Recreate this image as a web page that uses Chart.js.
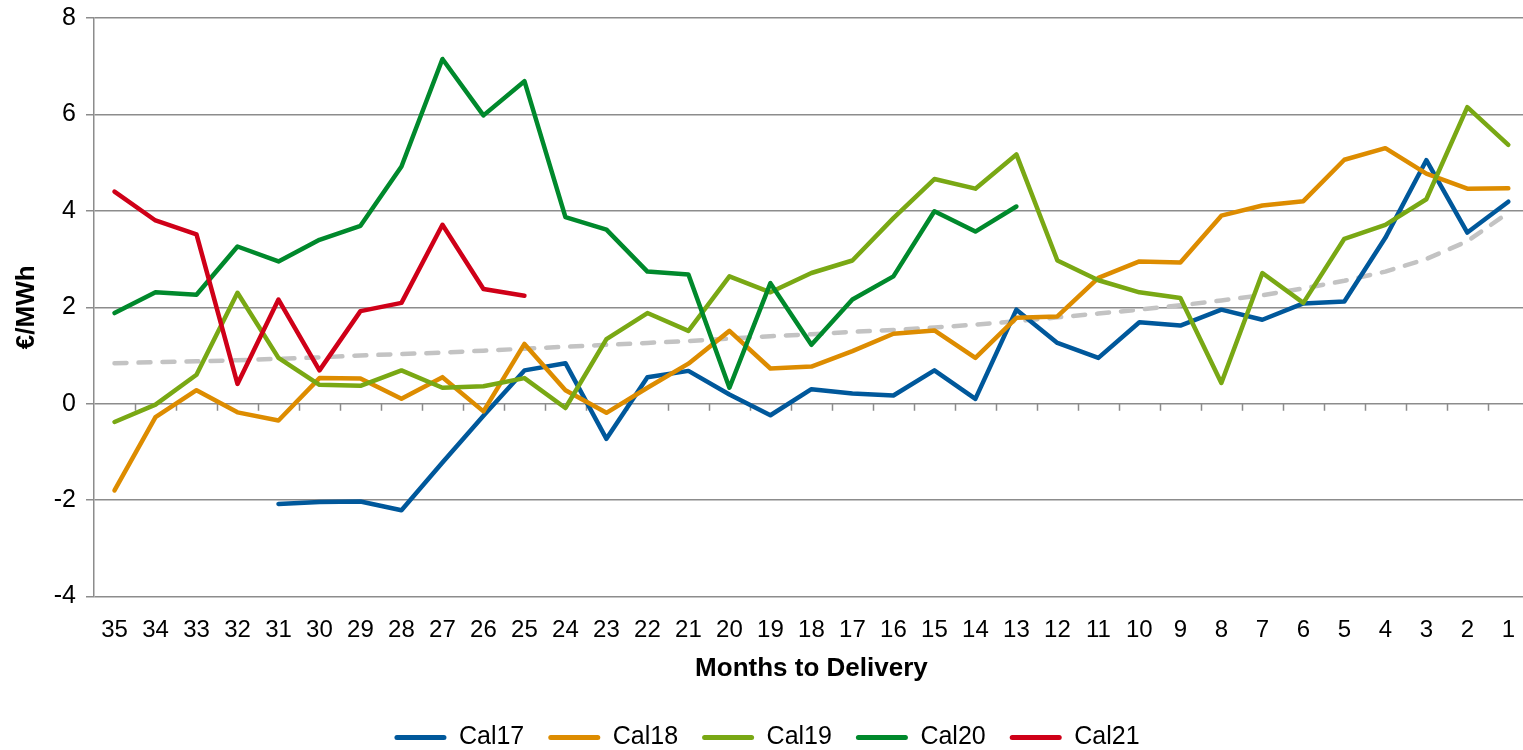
<!DOCTYPE html>
<html>
<head>
<meta charset="utf-8">
<script src="https://cdn.jsdelivr.net/npm/chart.js@4.4.1/dist/chart.umd.min.js"></script>
<style>
  html, body { margin: 0; padding: 0; background: #fff; overflow: hidden; }
  #wrap { width: 1534px; height: 750px; position: relative; }
</style>
</head>
<body>
<div id="wrap"><canvas id="c"></canvas></div>
<script>
const categories = ["35","34","33","32","31","30","29","28","27","26","25","24","23","22","21","20","19","18","17","16","15","14","13","12","11","10","9","8","7","6","5","4","3","2","1"];

const cal17 = [null,null,null,null,-2.08,-2.04,-2.03,-2.21,-1.22,-0.25,0.69,0.84,-0.73,0.55,0.68,0.19,-0.24,0.30,0.21,0.17,0.69,0.10,1.95,1.26,0.95,1.69,1.62,1.95,1.74,2.08,2.12,3.44,5.05,3.55,4.19];
const cal18 = [-1.80,-0.28,0.28,-0.18,-0.35,0.53,0.52,0.10,0.55,-0.16,1.24,0.28,-0.19,0.33,0.83,1.51,0.73,0.77,1.09,1.45,1.52,0.95,1.78,1.81,2.61,2.95,2.93,3.90,4.11,4.20,5.06,5.30,4.77,4.46,4.47];
const cal19 = [-0.38,-0.02,0.60,2.30,0.95,0.39,0.37,0.69,0.33,0.36,0.53,-0.09,1.34,1.88,1.51,2.64,2.31,2.71,2.97,3.85,4.66,4.46,5.17,2.97,2.56,2.31,2.19,0.43,2.71,2.09,3.42,3.71,4.24,6.15,5.37];
const cal20 = [1.88,2.31,2.26,3.26,2.95,3.40,3.69,4.92,7.15,5.98,6.69,3.87,3.61,2.74,2.68,0.33,2.50,1.22,2.16,2.64,3.99,3.57,4.09,null,null,null,null,null,null,null,null,null,null,null,null];
const cal21 = [4.40,3.80,3.51,0.41,2.16,0.69,1.92,2.09,3.71,2.38,2.24,null,null,null,null,null,null,null,null,null,null,null,null,null,null,null,null,null,null,null,null,null,null,null,null];
const trend = [0.84,0.86,0.88,0.90,0.93,0.96,1.00,1.03,1.06,1.10,1.14,1.18,1.22,1.26,1.30,1.35,1.40,1.44,1.49,1.53,1.58,1.64,1.71,1.79,1.87,1.95,2.04,2.14,2.25,2.39,2.55,2.74,3.00,3.37,3.96];

const yTicks = [-4,-2,0,2,4,6,8];

const FONT = "'Liberation Sans', Arial, sans-serif";

function series(label, data, color, order) {
  return {
    label, data,
    borderColor: color, backgroundColor: color,
    borderWidth: 4.5, pointRadius: 0, pointHoverRadius: 0,
    tension: 0, spanGaps: false, order,
    borderJoinStyle: 'round', borderCapStyle: 'round'
  };
}

const zeroTicks = {
  id: 'zeroTicks',
  beforeDatasetsDraw(chart) {
    const x = chart.scales.x, y = chart.scales.y;
    const y0 = y.getPixelForValue(0);
    const ctx = chart.ctx;
    ctx.save();
    ctx.strokeStyle = '#8c8c8c';
    ctx.lineWidth = 1.5;
    ctx.beginPath();
    for (let i = 1; i < categories.length; i++) {
      const px = (x.getPixelForValue(i - 1) + x.getPixelForValue(i)) / 2;
      ctx.moveTo(Math.round(px) + 0.5, y0);
      ctx.lineTo(Math.round(px) + 0.5, y0 + 7);
    }
    ctx.stroke();
    ctx.restore();
  }
};

new Chart(document.getElementById('c'), {
  type: 'line',
  data: {
    labels: categories,
    datasets: [
      series('Cal17', cal17, '#00589b', 5),
      series('Cal18', cal18, '#dd8c00', 4),
      series('Cal19', cal19, '#79a814', 3),
      series('Cal20', cal20, '#00892c', 2),
      series('Cal21', cal21, '#cf0018', 1),
      Object.assign(series('Trend', trend, '#c3c3c3', 6), { borderDash: [12, 12], borderWidth: 4.5 })
    ]
  },
  options: {
    responsive: true,
    maintainAspectRatio: false,
    animation: false,
    devicePixelRatio: 1,
    layout: { padding: { top: 18, right: 0, left: 0, bottom: -10 } },
    plugins: {
      tooltip: { enabled: false },
      legend: {
        position: 'bottom',
        labels: {
          font: { family: FONT, size: 25 },
          color: '#000',
          boxWidth: 52,
          boxHeight: 5,
          padding: 24,
          useBorderRadius: true,
          borderRadius: 2.5,
          sort: (a, b) => a.datasetIndex - b.datasetIndex,
          generateLabels(chart) {
            return Chart.defaults.plugins.legend.labels.generateLabels(chart)
              .filter(l => l.text !== 'Trend')
              .map(l => Object.assign(l, { lineWidth: 0, fillStyle: l.strokeStyle, lineDash: [] }));
          }
        }
      }
    },
    scales: {
      x: {
        type: 'category',
        offset: true,
        grid: { display: false, drawTicks: false },
        border: { display: false },
        ticks: {
          font: { family: FONT, size: 24 },
          color: '#000',
          padding: 19,
          maxRotation: 0,
          autoSkip: false
        },
        title: {
          display: true,
          text: 'Months to Delivery',
          font: { family: FONT, size: 26, weight: 'bold' },
          color: '#000',
          padding: { top: -10, bottom: 16.5 }
        }
      },
      y: {
        min: -4, max: 8,
        afterBuildTicks(scale) { scale.ticks = yTicks.map(v => ({ value: v })); },
        afterFit(scale) { scale.width = 94; scale.paddingTop = 0; scale.paddingBottom = 0; },
        grid: { color: '#8c8c8c', lineWidth: 1.5, tickLength: 8, drawTicks: true },
        border: { color: '#8c8c8c', width: 1.5 },
        ticks: {
          font: { family: FONT, size: 25 },
          color: '#000',
          padding: 10
        },
        title: {
          display: true,
          text: '€/MWh',
          font: { family: FONT, size: 26, weight: 'bold' },
          color: '#000',
          padding: { top: 11, bottom: 0 }
        }
      }
    }
  },
  plugins: [zeroTicks]
});
</script>
</body>
</html>
